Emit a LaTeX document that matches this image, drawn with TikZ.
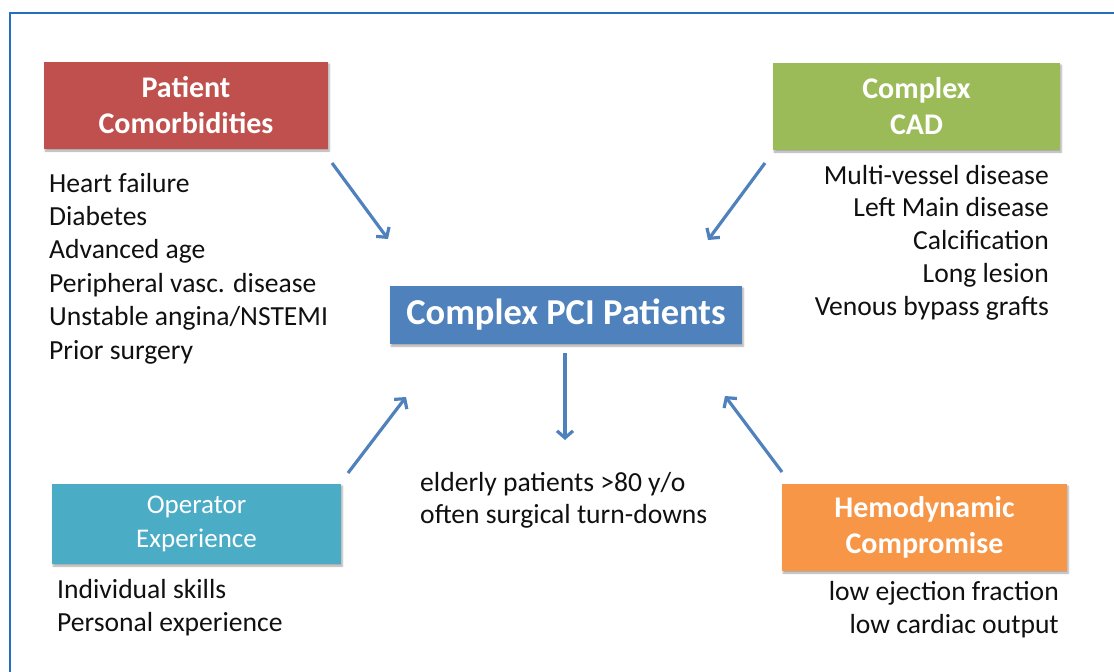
\documentclass[tikz,border=0pt]{standalone}
\usepackage{fontspec}
\setmainfont{Carlito}
\usetikzlibrary{arrows.meta,shadows.blur}

\definecolor{framecol}{RGB}{38,110,192}
\definecolor{redbox}{HTML}{C0504D}
\definecolor{greenbox}{HTML}{9BBB59}
\definecolor{bluebox}{HTML}{4F81BD}
\definecolor{tealbox}{HTML}{4BACC6}
\definecolor{orangebox}{HTML}{F79646}
\definecolor{arrowcol}{HTML}{4F81BD}
\definecolor{bodytext}{HTML}{101010}

\begin{document}
\begin{tikzpicture}[x=1pt,y=-1pt,
  catbox/.style={fill=#1, text=white, inner sep=0pt, align=center,
    blur shadow={shadow xshift=1.2pt, shadow yshift=-2pt,
      shadow blur radius=1.8pt, shadow blur steps=6, shadow opacity=35}},
  titlefont/.style={font=\fontsize{30}{36}\selectfont\bfseries},
  opfont/.style={font=\fontsize{27}{34}\selectfont},
  body/.style={inner sep=0pt, text=bodytext, font=\fontsize{27.6}{33}\selectfont},
  link/.style={draw=arrowcol, line width=3.2pt,
    -{Straight Barb[length=7pt,width=16pt,line width=3.2pt]}}]

\useasboundingbox (0,0) rectangle (1114,672);
\clip (0,0) rectangle (1114,672);

% outer frame, running off the right and bottom edges
\draw[framecol, line width=2pt] (9.5,12.5) rectangle (1140,700);

% category boxes
\node[catbox=redbox, titlefont, minimum width=284pt, minimum height=87pt]
  (comorb) at (186,105.5) {Patient\\Comorbidities};
\node[catbox=greenbox, titlefont, minimum width=287pt, minimum height=87pt]
  (cad) at (916.5,106.5) {Complex\\CAD};
\node[catbox=bluebox, font=\fontsize{36.5}{40}\selectfont\bfseries,
  minimum width=352pt, minimum height=58pt]
  (pci) at (566,315) {Complex PCI Patients};
\node[catbox=tealbox, opfont, minimum width=289pt, minimum height=80pt]
  (oper) at (196.5,524) {Operator\\Experience};
\node[catbox=orangebox, titlefont, minimum width=285pt, minimum height=87pt]
  (hemo) at (924.5,527.5) {Hemodynamic\\Compromise};

% item lists
\foreach \t [count=\i] in {Heart failure, Diabetes, Advanced age,
    Peripheral vasc. disease, Unstable angina/NSTEMI, Prior surgery}
  \node[body, anchor=base west] (pc\i) at (49,{192+33.4*(\i-1)}) {\t};

\foreach \t [count=\i] in {Multi-vessel disease, Left Main disease,
    Calcification, Long lesion, Venous bypass grafts}
  \node[body, anchor=base east] (cd\i) at (1049,{184+32.8*(\i-1)}) {\t};

\foreach \t [count=\i] in {Individual skills, Personal experience}
  \node[body, anchor=base west] (op\i) at (57,{598+33*(\i-1)}) {\t};

\foreach \t [count=\i] in {low ejection fraction, low cardiac output}
  \node[body, anchor=base east] (hd\i) at (1059,{600+33*(\i-1)}) {\t};

\foreach \t [count=\i] in {elderly patients >80 y/o, often surgical turn-downs}
  \node[body, anchor=base west] (el\i) at (420,{491+32*(\i-1)}) {\t};

% arrow end points
\coordinate (a1s) at (332,163);  \coordinate (a1e) at (388,239);
\coordinate (a2s) at (765,163);  \coordinate (a2e) at (708,240);
\coordinate (a3s) at (348,473);  \coordinate (a3e) at (406,397);
\coordinate (a4s) at (782,472);  \coordinate (a4e) at (725,396);
\coordinate (a5s) at (565,353);  \coordinate (a5e) at (565,440);

\draw[link] (a1s) -- (a1e);
\draw[link] (a2s) -- (a2e);
\draw[link] (a3s) -- (a3e);
\draw[link] (a4s) -- (a4e);
\draw[link] (a5s) -- (a5e);

\end{tikzpicture}
\end{document}
